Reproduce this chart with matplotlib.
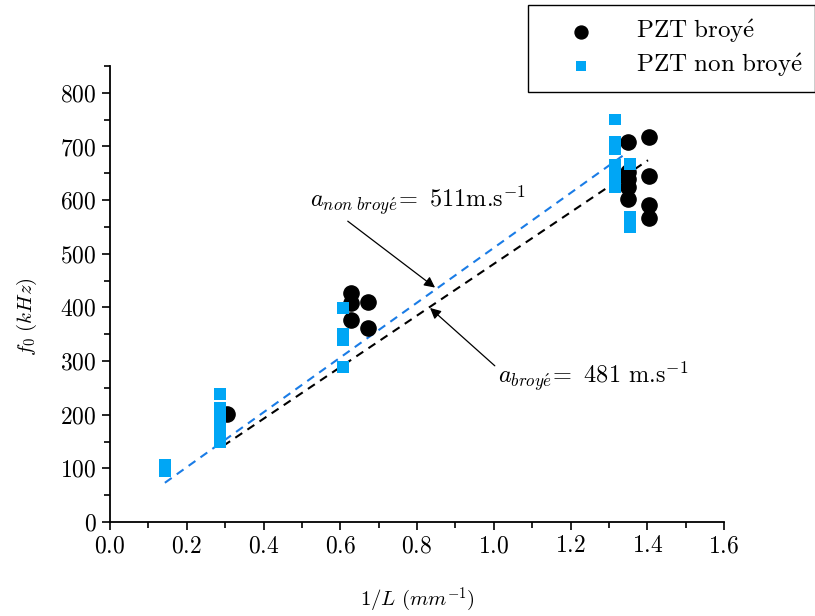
import numpy as np
import matplotlib
matplotlib.use('Agg')
import matplotlib.pyplot as plt
from matplotlib.ticker import MultipleLocator

plt.rcParams['font.family'] = 'serif'
plt.rcParams['font.serif'] = ['cmr10', 'DejaVu Serif']
plt.rcParams['mathtext.fontset'] = 'cm'
plt.rcParams['axes.formatter.use_mathtext'] = True

# %% Data (1/L in mm^-1, f0 in kHz)
x_broye = [0.305, 0.628, 0.628, 0.672, 0.628, 0.672,
           1.350, 1.350, 1.350, 1.350, 1.350, 1.405, 1.405, 1.405, 1.405]
f_broye = [201, 427, 409, 410, 377, 362,
           709, 653, 640, 625, 603, 718, 645, 590, 567]

x_nonbroye = [0.143, 0.143,
              0.287, 0.287, 0.287, 0.287, 0.287, 0.287, 0.287,
              0.607, 0.607, 0.607, 0.607,
              1.316, 1.316, 1.316, 1.316, 1.316, 1.316, 1.316,
              1.355, 1.355, 1.355]
f_nonbroye = [106, 94,
              239, 212, 200, 185, 172, 160, 148,
              399, 350, 338, 289,
              750, 709, 695, 665, 650, 638, 625,
              667, 569, 550]

# fitted slopes (kHz per mm^-1 -> m/s)
a_broye = 481
a_nonbroye = 511
fit_x_broye = [0.295, 1.402]
fit_x_nonbroye = [0.143, 1.339]

# %% Plot
fig = plt.figure(figsize=(8.15, 6.16), dpi=100)
ax = fig.add_axes([110/815, 94/616, 614/815, 456/616])

ax.scatter(x_broye, f_broye, s=120, marker='o', color='black', zorder=3,
           label=r'$\mathrm{PZT\ broy\acute{e}}$')
ax.scatter(x_nonbroye, f_nonbroye, s=70, marker='s', color='#00A6F5', zorder=3,
           edgecolors='none', label=r'$\mathrm{PZT\ non\ broy\acute{e}}$')

xb = np.array(fit_x_broye)
xn = np.array(fit_x_nonbroye)
ax.plot(xn, a_nonbroye*xn, linestyle=(0, (4, 3)), color='#1A7CE6', lw=1.5, zorder=2)
ax.plot(xb, a_broye*xb, linestyle=(0, (4, 3)), color='black', lw=1.5, zorder=2)

# annotations
ax.annotate(r'$a_{non\ broy\acute{e}}\!=$ %dm.s$^{-1}$' % a_nonbroye,
            xy=(0.847, 437), xytext=(0.52, 585), fontsize=17.5,
            arrowprops=dict(arrowstyle='-|>', color='black', lw=0.9,
                            mutation_scale=16, shrinkA=0, shrinkB=0,
                            relpos=(0.16, 0.0)))
ax.annotate(r'$a_{broy\acute{e}}\!=$ %d m.s$^{-1}$' % a_broye,
            xy=(0.834, 399), xytext=(1.01, 258), fontsize=17.5,
            arrowprops=dict(arrowstyle='-|>', color='black', lw=0.9,
                            mutation_scale=16, shrinkA=0, shrinkB=0,
                            relpos=(0.0, 0.75)))

ax.set_xlim(0, 1.6)
ax.set_ylim(0, 850)
ax.xaxis.set_major_locator(MultipleLocator(0.2))
ax.xaxis.set_minor_locator(MultipleLocator(0.1))
ax.set_yticks(np.arange(0, 801, 100))
ax.yaxis.set_minor_locator(MultipleLocator(50))
ax.tick_params(which='major', direction='out', length=6, width=1.2, labelsize=17)
ax.tick_params(which='minor', direction='out', length=4, width=1.2)
ax.spines['top'].set_visible(False)
ax.spines['right'].set_visible(False)
ax.spines['left'].set_linewidth(1.3)
ax.spines['bottom'].set_linewidth(1.3)

ax.set_xlabel(r'$\mathit{1/L\ (mm^{-1})}$', fontsize=15)
ax.set_ylabel(r'$\mathit{f_0\ (kHz)}$', fontsize=15)
ax.xaxis.set_label_coords(0.5, -0.14)
ax.yaxis.set_label_coords(-0.115, 0.45)

leg = ax.legend(loc='upper right', bbox_to_anchor=(1.0, 1 - 5/616),
                bbox_transform=fig.transFigure, fontsize=18, fancybox=False,
                edgecolor='black', framealpha=1, borderpad=0.5,
                borderaxespad=0, handlelength=3.2, handletextpad=0.6,
                labelspacing=0.25, scatterpoints=1, markerscale=0.85)
leg.get_frame().set_linewidth(1.0)

plt.savefig('out.png', dpi=100)
